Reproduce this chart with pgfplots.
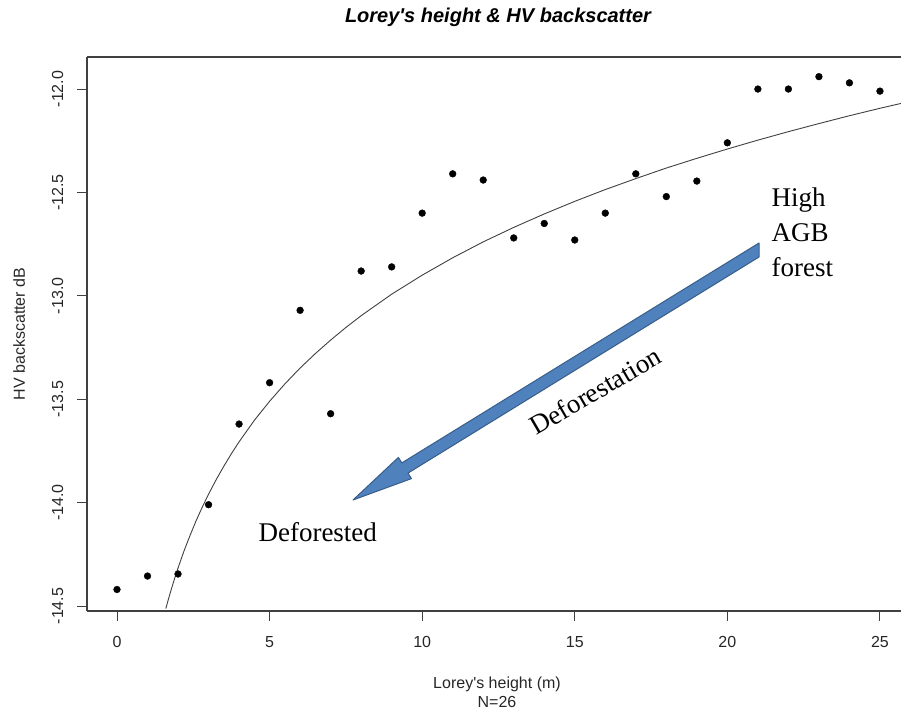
\documentclass[border=0pt]{standalone}
\usepackage{fontspec}
\setmainfont{Liberation Sans}
\newfontfamily\serif{Liberation Serif}
\usepackage{pgfplots}
\pgfplotsset{compat=1.18}
\definecolor{arrowblue}{RGB}{79,129,189}
\definecolor{arrowedge}{RGB}{56,93,138}
\begin{document}
\begin{tikzpicture}[x=1pt,y=1pt]
\useasboundingbox (0,0) rectangle (901,710);
\begin{axis}[
  at={(87pt,99pt)}, anchor=south west,
  width=814pt, height=554pt, scale only axis,
  xmin=-0.983, xmax=25.69, ymin=-14.524, ymax=-11.845,
  axis lines*=left,
  axis line style={line width=1.2pt, black!75},
  tick align=outside,
  major tick length=10pt,
  tick style={line width=1pt, black!75},
  xtick={0,5,10,15,20,25},
  xticklabels={0,5,10,15,20,25},
  ytick={-14.5,-14,-13.5,-13,-12.5,-12},
  yticklabels={-14.5,-14.0,-13.5,-13.0,-12.5,-12.0},
  ticklabel style={font=\fontsize{16}{19}\selectfont, text=black!85},
  xticklabel style={anchor=base, yshift=-26pt},
  yticklabel style={xshift=-14pt, rotate=90, anchor=base},
]
% observed plots
\addplot[only marks, mark=*, mark size=3.4pt, black] coordinates {
  (0,-14.42) (1,-14.355) (2,-14.345) (3,-14.01) (4,-13.62) (5,-13.42)
  (6,-13.07) (7,-13.57) (8,-12.88) (9,-12.86) (10,-12.60) (11,-12.41)
  (12,-12.44) (13,-12.72) (14,-12.65) (15,-12.73) (16,-12.60) (17,-12.41)
  (18,-12.52) (19,-12.445) (20,-12.26) (21,-12.00) (22,-12.00) (23,-11.94)
  (24,-11.97) (25,-12.01)
};
% fitted curve
\addplot[no marks, line width=0.9pt, black!75] coordinates {
  (1.6,-14.512) (1.7,-14.459) (1.8,-14.409) (1.9,-14.361) (2.0,-14.316)
  (2.2,-14.232) (2.4,-14.156) (2.6,-14.085) (2.8,-14.020) (3.0,-13.959)
  (3.25,-13.889) (3.5,-13.824) (3.75,-13.763) (4,-13.706) (4.5,-13.602)
  (5,-13.510) (5.5,-13.426) (6,-13.349) (6.5,-13.279) (7,-13.214)
  (7.5,-13.153) (8,-13.096) (9,-12.992) (10,-12.900) (11,-12.816)
  (12,-12.739) (13,-12.669) (14,-12.604) (15,-12.543) (16,-12.486)
  (17,-12.433) (18,-12.382) (19,-12.335) (20,-12.290) (21,-12.247)
  (22,-12.206) (23,-12.167) (24,-12.129) (25,-12.093) (26,-12.059)
};
\end{axis}
\draw[line width=1.2pt, black!75] (87,653) -- (901,653);
% titles
\node[font=\fontsize{20}{23}\selectfont\bfseries\itshape, anchor=base] at (498,687) {Lorey\textquotesingle s height \& HV backscatter};
\node[font=\fontsize{16}{19}\selectfont, anchor=base, text=black!85] at (497,22) {Lorey\textquotesingle s height (m)};
\node[font=\fontsize{16}{19}\selectfont, anchor=base, text=black!85] at (497,3) {N=26};
\node[font=\fontsize{16}{19}\selectfont, anchor=base, rotate=90, text=black!85] at (25,376) {HV backscatter dB};
% arrow
\filldraw[fill=arrowblue, draw=arrowedge, line width=1pt, line join=round]
  (353,210) -- (411.5,231.4) -- (408.0,236.9) -- (759,453) -- (759,467)
  -- (401.8,247.1) -- (398.4,252.6) -- cycle;
% annotations
\node[font=\serif\fontsize{27}{32}\selectfont, anchor=base west] at (768,503) {High};
\node[font=\serif\fontsize{27}{32}\selectfont, anchor=base west] at (768,468) {AGB};
\node[font=\serif\fontsize{27}{32}\selectfont, anchor=base west] at (768,433) {forest};
\node[font=\serif\fontsize{27}{32}\selectfont, anchor=base west] at (255,169) {Deforested};
\node[font=\serif\fontsize{27}{32}\selectfont, anchor=base, rotate=30.2] at (600,311) {Deforestation};
\end{tikzpicture}
\end{document}
